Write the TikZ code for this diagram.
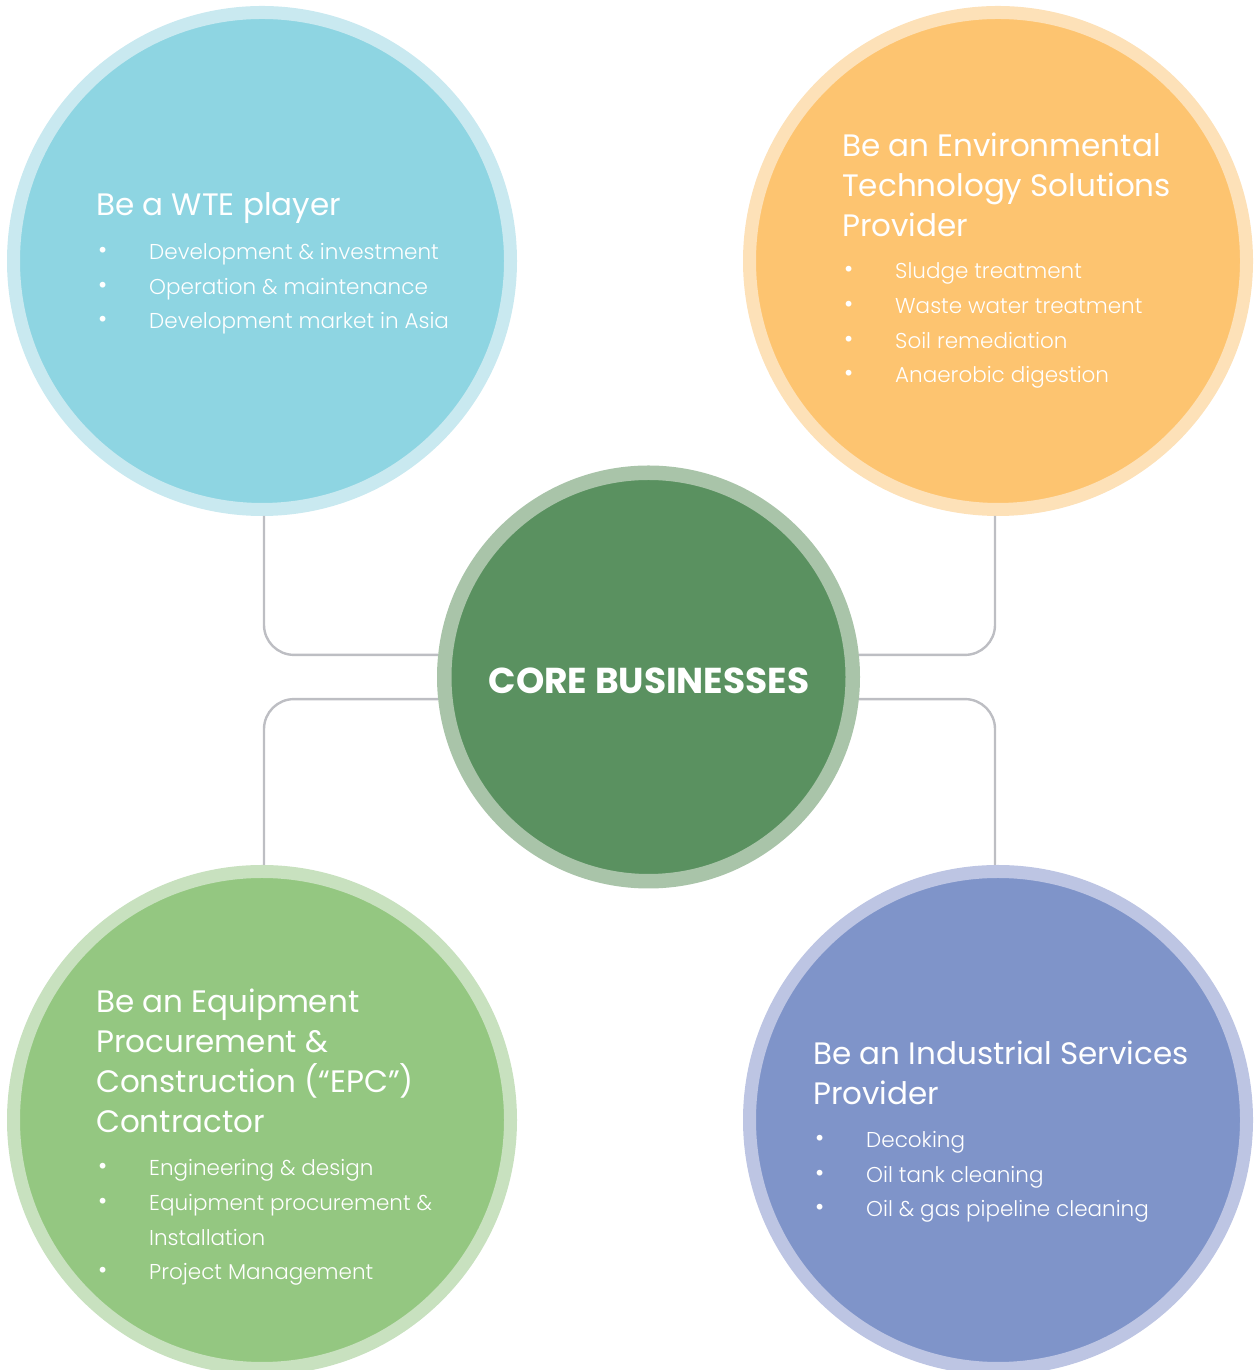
\documentclass[tikz,border=0pt]{standalone}
\usepackage{fontspec}
\setmainfont{Poppins}
\newfontfamily\lightfont{Poppins Light}
\usetikzlibrary{positioning}
\definecolor{wteblue}{HTML}{8ED5E2}
\definecolor{wtering}{HTML}{C9E9F0}
\definecolor{envorange}{HTML}{FDC470}
\definecolor{envring}{HTML}{FDE1B8}
\definecolor{coregreen}{HTML}{5A9160}
\definecolor{corering}{HTML}{A9C4A9}
\definecolor{epcgreen}{HTML}{94C781}
\definecolor{epcring}{HTML}{C8E1BF}
\definecolor{indblue}{HTML}{7F94C9}
\definecolor{indring}{HTML}{BDC5E3}
\definecolor{linkgray}{HTML}{BDBEC3}

% bullet followed by the item indent
\newcommand{\itemdot}{\makebox[53pt][l]{\hspace{2pt}\raisebox{1pt}{\fontsize{25}{25}\selectfont\textbullet}}}
\newcommand{\itemgap}{\hspace*{53pt}}

% text nodes sit on the baseline of their last line
\tikzset{
  bigdisc/.style={circle, line width=13pt, minimum size=497pt, inner sep=0pt},
  heading/.style={anchor=base west, inner sep=0pt, text=white, align=left,
    font=\fontsize{31}{40}\selectfont},
  items/.style={anchor=base west, inner sep=0pt, text=white, align=left,
    font=\lightfont\fontsize{21.5}{34.7}\selectfont},
  link/.style={draw=linkgray, line width=2.4pt, rounded corners=30pt},
}

\begin{document}
\begin{tikzpicture}[x=1pt, y=1pt]
    \useasboundingbox (0,0) rectangle (1253,1370);

    % the four business discs and the core
    \node[bigdisc, fill=wteblue, draw=wtering] (wte) at (262,1109) {};
    \node[bigdisc, fill=envorange, draw=envring] (env) at (998,1109) {};
    \node[bigdisc, fill=epcgreen, draw=epcring] (epc) at (262,250) {};
    \node[bigdisc, fill=indblue, draw=indring] (ind) at (998,250) {};
    \node[circle, fill=coregreen, draw=corering, line width=14.5pt,
          minimum size=408.5pt, inner sep=0pt] (core) at (648.5,693) {};
    \node[text=white, font=\fontsize{36}{36}\selectfont\bfseries] (coretext) at (649,689) {CORE BUSINESSES};

    % connectors
    \draw[link] ([xshift=2pt]wte.south) |- (core.174);
    \draw[link] ([xshift=-3pt]env.south) |- (core.6);
    \draw[link] (core.186) -| ([xshift=2pt]epc.north);
    \draw[link] (core.354) -| ([xshift=-3pt]ind.north);

    % WTE
    \node[heading] (wtetitle) at (96,1154) {Be a WTE player};
    \node[items] (wteitems) at (96,1041) {\itemdot Development \& investment\\
        \itemdot Operation \& maintenance\\
        \itemdot Development market in Asia};

    % environmental technology
    \node[heading] (envtitle) at (842,1133) {Be an Environmental\\
        Technology Solutions\\ Provider};
    \node[items] (envitems) at (842,987) {\itemdot Sludge treatment\\
        \itemdot Waste water treatment\\
        \itemdot Soil remediation\\
        \itemdot Anaerobic digestion};

    % EPC
    \node[heading] (epctitle) at (96,237) {Be an Equipment\\
        Procurement \&\\ Construction (“EPC”)\\ Contractor};
    \node[items] (epcitems) at (96,90) {\itemdot Engineering \& design\\
        \itemdot Equipment procurement \&\\
        \itemgap Installation\\
        \itemdot Project Management};

    % industrial services
    \node[heading] (indtitle) at (813,265) {Be an Industrial Services\\ Provider};
    \node[items] (inditems) at (813,153) {\itemdot Decoking\\
        \itemdot Oil tank cleaning\\
        \itemdot Oil \& gas pipeline cleaning};
\end{tikzpicture}
\end{document}
